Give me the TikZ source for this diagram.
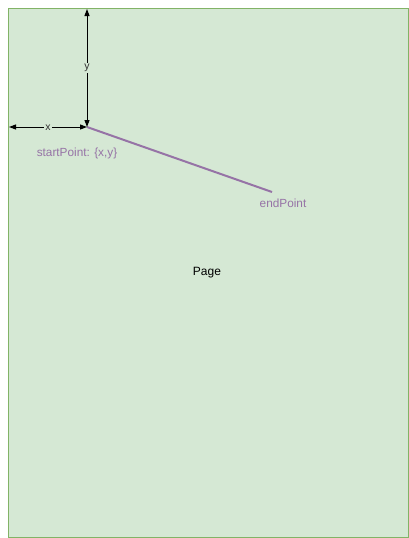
\documentclass[tikz,border=0pt]{standalone}
\usepackage{fontspec}
\setmainfont{Liberation Sans}
\usetikzlibrary{arrows.meta}
\definecolor{pagefill}{HTML}{D5E8D4}
\definecolor{pagestroke}{HTML}{82B366}
\definecolor{purp}{HTML}{9673A6}
\tikzset{
  pagebox/.style={draw=pagestroke, fill=pagefill, line width=1pt, minimum width=400pt, minimum height=529pt, inner sep=0pt, anchor=north west},
  dimarrow/.style={draw=black, line width=1pt, {Triangle[length=7pt,width=5pt]}-{Triangle[length=7pt,width=5pt]}},
  dimlabel/.style={fill=pagefill, inner sep=1pt, font=\fontsize{10.5}{12}\selectfont, text=black!80},
  purplabel/.style={text=purp, font=\fontsize{11.8}{14}\selectfont, inner sep=0pt},
  purpline/.style={draw=purp, line width=2pt}
}
\begin{document}
\begin{tikzpicture}[x=1pt,y=-1pt]
\useasboundingbox (0,0) rectangle (409,538);
\node[pagebox] (page) at (8,8) {};
\node[font=\fontsize{12}{14}\selectfont, inner sep=0pt] (pagelabel) at (207,273) {Page};
\coordinate (start) at (87,127);
\coordinate (endp) at (272,192);
\coordinate (ytop) at (87,9);
\coordinate (xleft) at (9,127);
\draw[purpline] (start) -- (endp);
\draw[dimarrow] (ytop) -- node[dimlabel] (ylab) {y} (start);
\draw[dimarrow] (xleft) -- node[dimlabel, yshift=-1pt] (xlab) {x} (start);
\node[purplabel] (startlab) at (77,153) {startPoint: \{x,y\}};
\node[purplabel] (endlab) at (283,203) {endPoint};
\end{tikzpicture}
\end{document}
